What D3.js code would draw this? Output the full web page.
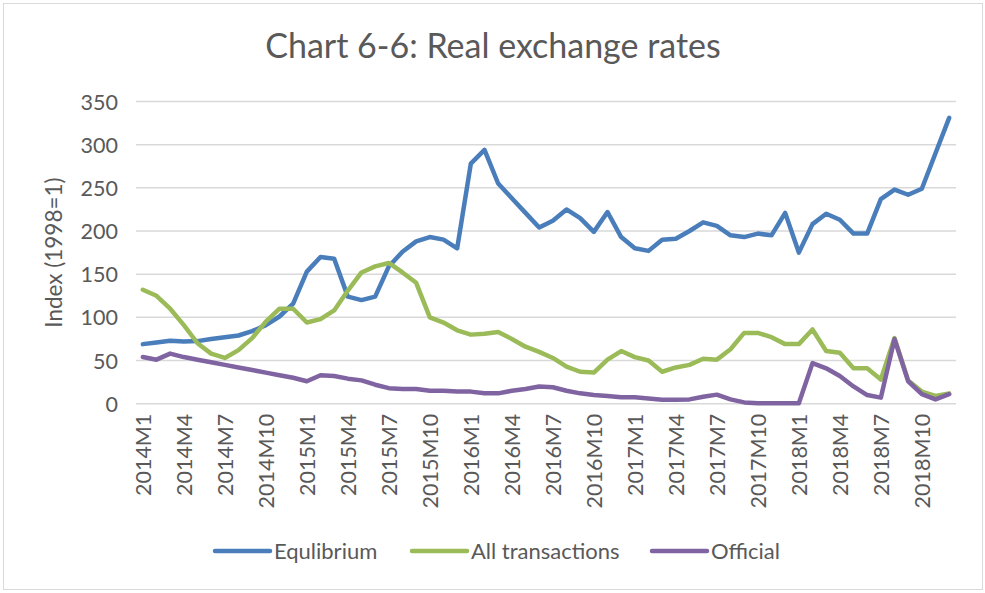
<!DOCTYPE html>
<html>
<head>
<meta charset="utf-8">
<script src="https://cdn.jsdelivr.net/npm/d3@7/dist/d3.min.js"></script>
<style>
  html, body { margin: 0; padding: 0; background: #fff; }
  svg { display: block; }
  text { font-family: Lato, "Open Sans", sans-serif; fill: #595959; }
</style>
</head>
<body>
<svg id="chart" width="985" height="593"></svg>
<script>
// ---- data ----
const years = [2014, 2015, 2016, 2017, 2018];
const months = [];
years.forEach(y => { for (let m = 1; m <= 12; m++) months.push(y + "M" + m); });

const equilibrium = [
  69, 71, 73, 72, 72.5, 75, 77, 79, 84, 91, 101, 116,
  153, 170, 168, 124, 120, 124, 159, 176, 188, 193, 190, 180,
  278, 294, 255, 238, 221, 204, 212, 225, 215, 199, 222, 193,
  180, 177, 190, 191, 200, 210, 206, 195, 193, 197, 195, 221,
  175, 208, 220, 213, 197, 197, 237, 248, 242, 249, 290, 331
];
const allTransactions = [
  132, 125, 110, 91, 70, 58, 53, 62, 76, 95, 110, 110,
  94, 98, 108, 131, 152, 159, 163, 152, 140, 100, 94, 85,
  80, 81, 83, 75, 66, 60, 53, 43, 37, 36, 51, 61,
  54, 50, 37, 42, 45, 52, 51, 63, 82, 82, 77, 69,
  69, 86, 61, 59, 41, 41, 28, 76, 27, 14, 9, 12
];
const official = [
  54, 51, 58, 54, 51, 48, 45, 42, 39, 36, 33, 30,
  26, 33, 32, 29, 27, 22, 18, 17, 17, 15, 15, 14,
  14, 12, 12, 15, 17, 20, 19, 15, 12, 10, 9, 7.5,
  7.5, 6, 4.5, 4.5, 5, 8, 10.5, 5, 1.5, 0.5, 0.5, 0.5,
  0.5, 47, 41, 32, 20, 10, 7, 75, 26, 11, 5, 11
];
const seriesNames = ["Equlibrium", "All transactions", "Official"];
const seriesColors = ["#4a7ebb", "#9bbb59", "#8064a2"];
const yTicks = [0, 50, 100, 150, 200, 250, 300, 350];
const tickEvery = 3;
const titleText = "Chart 6-6: Real exchange rates";
const yTitle = "Index (1998=1)";

// ---- layout ----
const svg = d3.select("#chart");
const plot = { left: 136, right: 956, top: 101.5, bottom: 403.7 };

svg.append("rect")
  .attr("x", 3.5).attr("y", 3.5).attr("width", 979).attr("height", 586)
  .attr("fill", "#fff").attr("stroke", "#d9d9d9").attr("stroke-width", 1);

const x = d3.scalePoint().domain(months).range([plot.left, plot.right]).padding(0.5);
const y = d3.scaleLinear().domain([0, 350]).range([plot.bottom, plot.top]);

// gridlines
svg.append("g").selectAll("line").data(yTicks).join("line")
  .attr("x1", plot.left).attr("x2", plot.right)
  .attr("y1", d => y(d)).attr("y2", d => y(d))
  .attr("stroke", "#d9d9d9").attr("stroke-width", 1.5);

// y axis
const yAxis = svg.append("g").attr("transform", `translate(${plot.left - 18},0)`)
  .call(d3.axisLeft(y).tickValues(yTicks).tickSize(0).tickPadding(0));
yAxis.select(".domain").remove();
yAxis.selectAll("text").attr("font-size", 21.5).attr("fill", "#595959")
  .style("font-family", "Lato").attr("dy", "0.35em");

// x axis
const xTickVals = months.filter((d, i) => i % tickEvery === 0);
const xAxis = svg.append("g").attr("transform", `translate(0,${plot.bottom})`)
  .call(d3.axisBottom(x).tickValues(xTickVals).tickSize(0).tickPadding(0));
xAxis.select(".domain").remove();
xAxis.selectAll("text")
  .attr("font-size", 21.5).attr("fill", "#595959").style("font-family", "Lato")
  .attr("text-anchor", "end")
  .attr("transform", "rotate(-90)")
  .attr("x", -10).attr("y", 0).attr("dy", "0.35em");

// y title
svg.append("text")
  .attr("transform", `translate(62,${(plot.top + plot.bottom) / 2}) rotate(-90)`)
  .attr("text-anchor", "middle").attr("font-size", 22.5).text(yTitle);

// title
svg.append("text").attr("x", 493).attr("y", 58)
  .attr("text-anchor", "middle").attr("font-size", 34).text(titleText);

// lines
const data = [equilibrium, allTransactions, official];
const line = d3.line().x((d, i) => x(months[i])).y(d => y(d));
svg.append("g").selectAll("path").data(data).join("path")
  .attr("d", line).attr("fill", "none")
  .attr("stroke", (d, i) => seriesColors[i])
  .attr("stroke-width", 4.5).attr("stroke-linejoin", "round").attr("stroke-linecap", "round");

// legend
const legendX = [215, 412, 652];
const leg = svg.append("g").selectAll("g").data(seriesNames).join("g")
  .attr("transform", (d, i) => `translate(${legendX[i]},551)`);
leg.append("line").attr("x1", 0).attr("x2", 55).attr("y1", 0).attr("y2", 0)
  .attr("stroke", (d, i) => seriesColors[i]).attr("stroke-width", 4.5).attr("stroke-linecap", "round");
leg.append("text").attr("x", 59).attr("y", 0).attr("dy", "0.35em")
  .attr("font-size", 22).text(d => d);
</script>
</body>
</html>
